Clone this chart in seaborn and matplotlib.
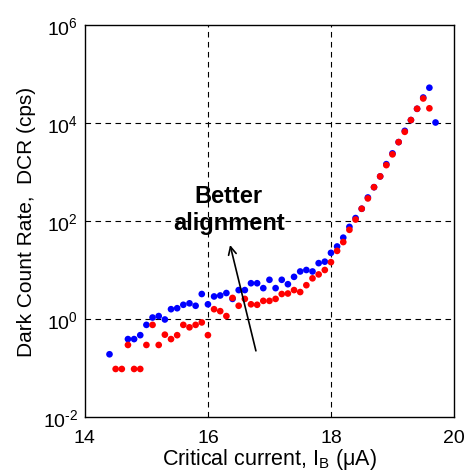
import numpy as np
import pandas as pd
import matplotlib
matplotlib.use("Agg")
import matplotlib.pyplot as plt
import seaborn as sns

# Bias current (uA) and dark count rate (cps), two device configurations
current_blue = [14.4, 14.7, 14.8, 14.9, 15.0, 15.1, 15.2, 15.3, 15.4, 15.5, 15.6, 15.7, 15.8,
                15.9, 16.0, 16.1, 16.2, 16.3, 16.4, 16.5, 16.6, 16.7, 16.8, 16.9, 17.0, 17.1,
                17.2, 17.3, 17.4, 17.5, 17.6, 17.7, 17.8, 17.9, 18.0, 18.1, 18.2, 18.3, 18.4,
                18.5, 18.6, 18.7, 18.8, 18.9, 19.0, 19.1, 19.2, 19.3, 19.4, 19.5, 19.6, 19.7]
log_dcr_blue = [-0.72, -0.41, -0.41, -0.33, -0.12, 0.03, 0.06, -0.01, 0.20, 0.22, 0.29, 0.32, 0.27,
                0.51, 0.30, 0.46, 0.48, 0.53, 0.41, 0.59, 0.59, 0.73, 0.73, 0.63, 0.80, 0.63,
                0.80, 0.71, 0.86, 0.97, 1.00, 0.97, 1.14, 1.17, 1.35, 1.48, 1.66, 1.88, 2.06,
                2.25, 2.48, 2.69, 2.91, 3.16, 3.38, 3.61, 3.84, 4.06, 4.29, 4.52, 4.72, 4.01]

current_red = [14.5, 14.6, 14.7, 14.8, 14.9, 15.0, 15.1, 15.2, 15.3, 15.4, 15.5, 15.6, 15.7,
               15.8, 15.9, 16.0, 16.1, 16.2, 16.3, 16.4, 16.5, 16.6, 16.7, 16.8, 16.9, 17.0,
               17.1, 17.2, 17.3, 17.4, 17.5, 17.6, 17.7, 17.8, 17.9, 18.0, 18.1, 18.2, 18.3,
               18.4, 18.5, 18.6, 18.7, 18.8, 18.9, 19.0, 19.1, 19.2, 19.3, 19.4, 19.5, 19.6]
log_dcr_red = [-1.02, -1.02, -0.53, -1.02, -1.02, -0.53, -0.12, -0.53, -0.32, -0.41, -0.33, -0.12, -0.17,
               -0.12, -0.07, -0.33, 0.20, 0.16, 0.06, 0.43, 0.27, 0.41, 0.30, 0.29, 0.37, 0.37,
               0.41, 0.51, 0.52, 0.59, 0.55, 0.69, 0.83, 0.91, 1.00, 1.16, 1.39, 1.57, 1.82,
               2.03, 2.25, 2.46, 2.69, 2.91, 3.14, 3.36, 3.61, 3.82, 4.06, 4.29, 4.50, 4.30]

x_ticks = [14, 16, 18, 20]
y_ticks = [1e-2, 1e0, 1e2, 1e4, 1e6]
y_tick_labels = [r"10$^{\text{-}2}$", r"10$^{0}$", r"10$^{2}$", r"10$^{4}$", r"10$^{6}$"]

sns.set_style("white")
plt.rcParams["font.family"] = ["Liberation Sans", "DejaVu Sans"]
plt.rcParams["mathtext.fontset"] = "custom"
plt.rcParams["mathtext.rm"] = "Liberation Sans"
plt.rcParams["mathtext.default"] = "regular"
plt.rcParams["axes.unicode_minus"] = False
plt.rcParams["text.color"] = "black"
plt.rcParams["axes.labelcolor"] = "black"

blue = pd.DataFrame({"current": current_blue, "dcr": 10 ** np.array(log_dcr_blue)})
red = pd.DataFrame({"current": current_red, "dcr": 10 ** np.array(log_dcr_red)})

fig = plt.figure(figsize=(4.69, 4.77), dpi=100)
ax = fig.add_axes([0.181, 0.1237, 0.787, 0.8218])

sns.scatterplot(data=blue, x="current", y="dcr", ax=ax, color="#0000ff", s=23,
                edgecolor="none", linewidth=0, zorder=3)
sns.scatterplot(data=red, x="current", y="dcr", ax=ax, color="#ff0000", s=23,
                edgecolor="none", linewidth=0, zorder=4)

ax.set_yscale("log")
ax.set_xlim(14, 20)
ax.set_ylim(1e-2, 1e6)
ax.set_xticks(x_ticks)
ax.set_xticklabels([str(t) for t in x_ticks])
ax.set_yticks(y_ticks)
ax.set_yticklabels(y_tick_labels)
ax.yaxis.set_minor_locator(matplotlib.ticker.NullLocator())
ax.tick_params(axis="both", which="both", length=0, labelsize=14, colors="black")
ax.tick_params(axis="x", pad=9)
ax.tick_params(axis="y", pad=5)

for xv in x_ticks[1:-1]:
    ax.axvline(xv, color="black", lw=0.8, ls=(0, (5, 4)), zorder=1)
for yv in y_ticks[1:-1]:
    ax.axhline(yv, color="black", lw=0.8, ls=(0, (5, 4)), zorder=1)

for sp in ax.spines.values():
    sp.set_visible(True)
    sp.set_color("black")
    sp.set_linewidth(1.0)

ax.set_xlabel("Critical current, I$_{B}$ (μA)", fontsize=15.5, labelpad=0)
ax.set_ylabel("Dark Count Rate,  DCR (cps)", fontsize=15, labelpad=5)

ax.annotate("", xy=(16.36, 10 ** 1.51), xytext=(16.78, 10 ** -0.65),
            arrowprops=dict(arrowstyle="->", color="black", lw=1.2,
                            mutation_scale=14, shrinkA=0, shrinkB=0), zorder=5)
ax.text(16.34, 10 ** 2.245, "Better\nalignment", ha="center", va="center",
        fontsize=17, fontweight="bold", linespacing=1.2, zorder=6, color="black")

fig.savefig("out.png", dpi=100, facecolor="white")
